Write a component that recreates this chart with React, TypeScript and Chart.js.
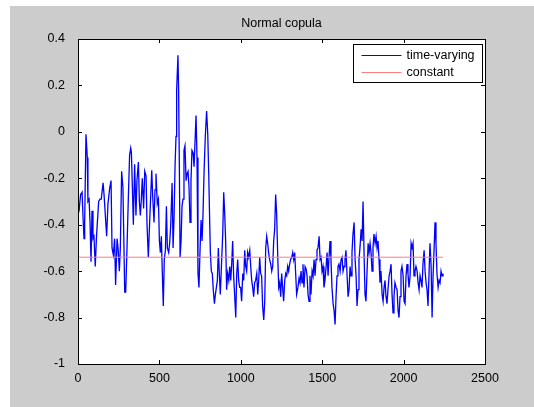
import React, { useEffect, useRef } from "react";
import { Chart, registerables } from "chart.js";

Chart.register(...registerables);

const TITLE = "Normal copula";
const SERIES_NAMES = ["time-varying", "constant"];
const X_TICKS = [0, 500, 1000, 1500, 2000, 2500];
const Y_TICKS = [-1, -0.8, -0.6, -0.4, -0.2, 0, 0.2, 0.4];
const CONSTANT_VALUE = -0.54;

const T = [
  0, 8, 16, 25, 31, 37, 41, 49, 57, 61, 68, 74, 80, 86, 92, 98, 106, 113, 119, 127,
  135, 143, 154, 160, 168, 176, 184, 195, 203, 209, 217, 225, 231, 240, 246, 254, 260, 268, 276, 287,
  293, 301, 309, 317, 324, 328, 334, 340, 348, 356, 362, 371, 377, 383, 389, 395, 403, 410, 418, 424,
  432, 440, 453, 459, 467, 473, 479, 487, 494, 500, 506, 512, 518, 524, 530, 537, 543, 549, 557, 563,
  569, 578, 584, 590, 596, 602, 606, 614, 618, 623, 627, 633, 639, 645, 651, 657, 664, 670, 676, 682,
  688, 694, 700, 707, 713, 719, 725, 731, 737, 743, 750, 756, 762, 768, 774, 782, 790, 797, 803, 809,
  813, 819, 825, 831, 838, 844, 850, 856, 862, 868, 874, 881, 889, 895, 901, 907, 913, 919, 926, 932,
  938, 944, 950, 956, 962, 969, 975, 981, 987, 993, 999, 1005, 1012, 1018, 1024, 1030, 1036, 1042, 1048, 1055,
  1061, 1067, 1073, 1079, 1085, 1091, 1098, 1104, 1110, 1116, 1122, 1128, 1134, 1141, 1147, 1153, 1159, 1165, 1171, 1177,
  1184, 1190, 1196, 1202, 1208, 1214, 1220, 1227, 1233, 1239, 1245, 1251, 1257, 1263, 1270, 1276, 1282, 1288, 1294, 1300,
  1306, 1313, 1319, 1325, 1331, 1337, 1343, 1351, 1358, 1364, 1370, 1376, 1382, 1388, 1395, 1401, 1407, 1413, 1419, 1425,
  1431, 1438, 1444, 1450, 1456, 1462, 1468, 1474, 1481, 1487, 1493, 1499, 1505, 1511, 1517, 1524, 1530, 1536, 1542, 1548,
  1554, 1560, 1567, 1573, 1579, 1585, 1591, 1597, 1603, 1610, 1616, 1622, 1628, 1634, 1640, 1646, 1653, 1659, 1665, 1671,
  1677, 1683, 1689, 1696, 1702, 1708, 1714, 1720, 1726, 1732, 1739, 1745, 1751, 1757, 1763, 1769, 1775, 1782, 1788, 1794,
  1800, 1806, 1812, 1818, 1825, 1831, 1837, 1843, 1849, 1855, 1861, 1868, 1874, 1880, 1886, 1892, 1898, 1904, 1911, 1917,
  1923, 1929, 1935, 1941, 1947, 1954, 1960, 1966, 1972, 1978, 1984, 1990, 1997, 2003, 2009, 2015, 2021, 2027, 2033, 2040,
  2046, 2052, 2058, 2064, 2070, 2076, 2083, 2089, 2095, 2101, 2107, 2113, 2119, 2126, 2132, 2138, 2144, 2150, 2156, 2162,
  2169, 2175, 2181, 2187, 2193, 2199, 2205, 2212, 2218, 2224, 2230, 2236, 2242,
];

const TIME_VARYING = [
  -0.30, -0.33, -0.27, -0.26, -0.37, -0.46, -0.39, -0.01, -0.11, -0.30, -0.29, -0.39, -0.56, -0.34, -0.46, -0.45, -0.58, -0.46, -0.39, -0.30,
  -0.29, -0.29, -0.22, -0.27, -0.36, -0.45, -0.31, -0.24, -0.21, -0.50, -0.53, -0.46, -0.66, -0.46, -0.50, -0.60, -0.50, -0.17, -0.24, -0.69,
  -0.69, -0.50, -0.29, -0.10, -0.07, -0.09, -0.24, -0.40, -0.14, -0.36, -0.21, -0.13, -0.30, -0.36, -0.29, -0.20, -0.33, -0.17, -0.19, -0.40,
  -0.54, -0.39, -0.165, -0.28, -0.39, -0.25, -0.18, -0.31, -0.29, -0.47, -0.52, -0.45, -0.61, -0.75, -0.55, -0.51, -0.32, -0.50, -0.52, -0.48,
  -0.41, -0.22, -0.50, -0.37, -0.15, -0.02, 0.18, 0.33, 0.18, -0.18, -0.54, -0.47, -0.32, -0.29, -0.08, -0.06, -0.21, -0.18, -0.17, -0.24,
  -0.39, -0.21, -0.08, -0.09, -0.15, -0.04, 0.07, -0.11, -0.61, -0.67, -0.50, -0.38, -0.47, -0.35, -0.18, -0.02, 0.09, -0.01, -0.18, -0.39,
  -0.52, -0.60, -0.61, -0.68, -0.74, -0.70, -0.67, -0.64, -0.50, -0.61, -0.70, -0.58, -0.44, -0.26, -0.35, -0.47, -0.68, -0.61, -0.64, -0.58,
  -0.64, -0.57, -0.47, -0.62, -0.70, -0.80, -0.61, -0.55, -0.64, -0.67, -0.67, -0.73, -0.61, -0.64, -0.51, -0.58, -0.60, -0.52, -0.54, -0.51,
  -0.58, -0.64, -0.67, -0.71, -0.65, -0.64, -0.61, -0.70, -0.64, -0.54, -0.61, -0.62, -0.75, -0.81, -0.73, -0.50, -0.45, -0.48, -0.52, -0.55,
  -0.57, -0.60, -0.58, -0.47, -0.42, -0.27, -0.35, -0.54, -0.67, -0.65, -0.71, -0.61, -0.67, -0.73, -0.64, -0.61, -0.62, -0.58, -0.60, -0.57,
  -0.55, -0.54, -0.52, -0.55, -0.52, -0.61, -0.70, -0.67, -0.63, -0.65, -0.60, -0.65, -0.57, -0.67, -0.58, -0.59, -0.62, -0.70, -0.73, -0.62,
  -0.70, -0.60, -0.62, -0.55, -0.62, -0.55, -0.51, -0.50, -0.45, -0.55, -0.54, -0.60, -0.58, -0.67, -0.64, -0.58, -0.52, -0.62, -0.54, -0.47,
  -0.55, -0.67, -0.74, -0.77, -0.83, -0.71, -0.62, -0.58, -0.57, -0.60, -0.55, -0.54, -0.60, -0.58, -0.55, -0.51, -0.62, -0.71, -0.68, -0.58,
  -0.62, -0.52, -0.44, -0.39, -0.55, -0.62, -0.75, -0.68, -0.55, -0.50, -0.42, -0.47, -0.30, -0.52, -0.70, -0.73, -0.61, -0.48, -0.52, -0.48,
  -0.52, -0.60, -0.50, -0.44, -0.48, -0.45, -0.50, -0.47, -0.55, -0.65, -0.60, -0.70, -0.73, -0.67, -0.64, -0.71, -0.74, -0.68, -0.62, -0.60,
  -0.57, -0.70, -0.78, -0.71, -0.65, -0.67, -0.68, -0.77, -0.80, -0.71, -0.60, -0.58, -0.62, -0.73, -0.74, -0.62, -0.57, -0.61, -0.67, -0.62,
  -0.48, -0.50, -0.48, -0.62, -0.60, -0.58, -0.60, -0.65, -0.68, -0.62, -0.64, -0.67, -0.57, -0.51, -0.60, -0.65, -0.68, -0.75, -0.75, -0.48,
  -0.58, -0.80, -0.62, -0.51, -0.39, -0.48, -0.61, -0.67, -0.64, -0.65, -0.60, -0.62, -0.61,
];

const FONT_FAMILY = '"Liberation Sans", Arial, Helvetica, sans-serif';
const FONT_SIZE = 12.5;
const BLUE = "#0000ff";
const RED = "#ff7f7f";

const fmt = (v: number) => String(Math.round(v * 10) / 10);

const matlabPlugin = {
  id: "matlabLook",
  beforeDraw(chart: any) {
    const { ctx, width, height, chartArea } = chart;
    ctx.save();
    ctx.fillStyle = "#ffffff";
    ctx.fillRect(0, 0, width, height);
    ctx.fillStyle = "#cccccc";
    ctx.fillRect(10, 6, width - 10, height - 6);
    ctx.fillStyle = "#ffffff";
    ctx.fillRect(chartArea.left, chartArea.top, chartArea.right - chartArea.left, chartArea.bottom - chartArea.top);
    ctx.restore();
  },
  afterDraw(chart: any) {
    const { ctx, chartArea } = chart;
    const { left, right, top, bottom } = chartArea;
    const xs = chart.scales.x;
    const ys = chart.scales.y;
    const tl = 4;
    ctx.save();
    ctx.strokeStyle = "#000000";
    ctx.lineWidth = 1;
    ctx.beginPath();
    X_TICKS.forEach((v) => {
      const px = Math.round(xs.getPixelForValue(v)) + 0.5;
      ctx.moveTo(px, bottom);
      ctx.lineTo(px, bottom - tl);
      ctx.moveTo(px, top);
      ctx.lineTo(px, top + tl);
    });
    Y_TICKS.forEach((v) => {
      const py = Math.round(ys.getPixelForValue(v)) + 0.5;
      ctx.moveTo(left, py);
      ctx.lineTo(left + tl, py);
      ctx.moveTo(right, py);
      ctx.lineTo(right - tl, py);
    });
    ctx.stroke();
    ctx.strokeRect(Math.round(left) + 0.5, Math.round(top) + 0.5, Math.round(right - left), Math.round(bottom - top));

    // title
    ctx.fillStyle = "#000000";
    ctx.font = `${FONT_SIZE}px ${FONT_FAMILY}`;
    ctx.textAlign = "center";
    ctx.textBaseline = "middle";
    ctx.fillText(TITLE, (left + right) / 2, 24);

    // legend
    const bw = 129;
    const bh = 38;
    const bx = Math.round(right - 3 - bw) + 0.5;
    const by = Math.round(top + 5) + 0.5;
    ctx.fillStyle = "#ffffff";
    ctx.fillRect(bx, by, bw, bh);
    ctx.strokeStyle = "#000000";
    ctx.strokeRect(bx, by, bw, bh);
    const colors = [BLUE, RED];
    SERIES_NAMES.forEach((name, i) => {
      const ry = by + 10.5 + i * 17;
      ctx.strokeStyle = colors[i];
      ctx.lineWidth = 1;
      ctx.beginPath();
      ctx.moveTo(bx + 8, Math.round(ry) + 0.5);
      ctx.lineTo(bx + 48, Math.round(ry) + 0.5);
      ctx.stroke();
      ctx.fillStyle = "#000000";
      ctx.textAlign = "left";
      ctx.textBaseline = "middle";
      ctx.fillText(name, bx + 53, ry + 1);
    });
    ctx.restore();
  },
};

export default function App() {
  const ref = useRef<HTMLCanvasElement | null>(null);
  useEffect(() => {
    if (!ref.current) return;
    const tv = T.map((t, i) => ({ x: t, y: TIME_VARYING[i] }));
    const cst = [
      { x: T[0], y: CONSTANT_VALUE },
      { x: T[T.length - 1], y: CONSTANT_VALUE },
    ];
    const chart = new Chart(ref.current, {
      type: "line",
      data: {
        datasets: [
          {
            label: SERIES_NAMES[0],
            data: tv,
            borderColor: BLUE,
            borderWidth: 1.3,
            pointRadius: 0,
            tension: 0,
            fill: false,
            order: 1,
          },
          {
            label: SERIES_NAMES[1],
            data: cst,
            borderColor: RED,
            borderWidth: 1,
            pointRadius: 0,
            tension: 0,
            fill: false,
            order: 0,
          },
        ],
      },
      options: {
        animation: false,
        responsive: false,
        devicePixelRatio: 1,
        layout: { padding: { left: 0, top: 39, right: 49, bottom: 0 } },
        plugins: {
          legend: { display: false },
          title: { display: false },
          tooltip: { enabled: false },
        },
        scales: {
          x: {
            type: "linear",
            min: 0,
            max: 2500,
            afterBuildTicks: (s: any) => {
              s.ticks = X_TICKS.map((v) => ({ value: v }));
            },
            afterFit: (s: any) => {
              s.height = 43;
            },
            grid: { display: false },
            border: { display: false },
            ticks: {
              color: "#000000",
              font: { family: FONT_FAMILY, size: FONT_SIZE },
              padding: -1,
              maxRotation: 0,
              autoSkip: false,
              callback: (v: any) => String(v),
            },
          },
          y: {
            type: "linear",
            min: -1,
            max: 0.4,
            afterBuildTicks: (s: any) => {
              s.ticks = Y_TICKS.map((v) => ({ value: v }));
            },
            afterFit: (s: any) => {
              s.width = 78;
            },
            grid: { display: false },
            border: { display: false },
            ticks: {
              color: "#000000",
              font: { family: FONT_FAMILY, size: FONT_SIZE },
              padding: 5,
              autoSkip: false,
              callback: (v: any) => fmt(Number(v)),
            },
          },
        },
      },
      plugins: [matlabPlugin],
    } as any);
    return () => chart.destroy();
  }, []);
  return (
    <div style={{ position: "absolute", left: 0, top: 0, width: 534, height: 407 }}>
      <canvas ref={ref} width={534} height={407} style={{ display: "block", width: 534, height: 407 }} />
    </div>
  );
}
